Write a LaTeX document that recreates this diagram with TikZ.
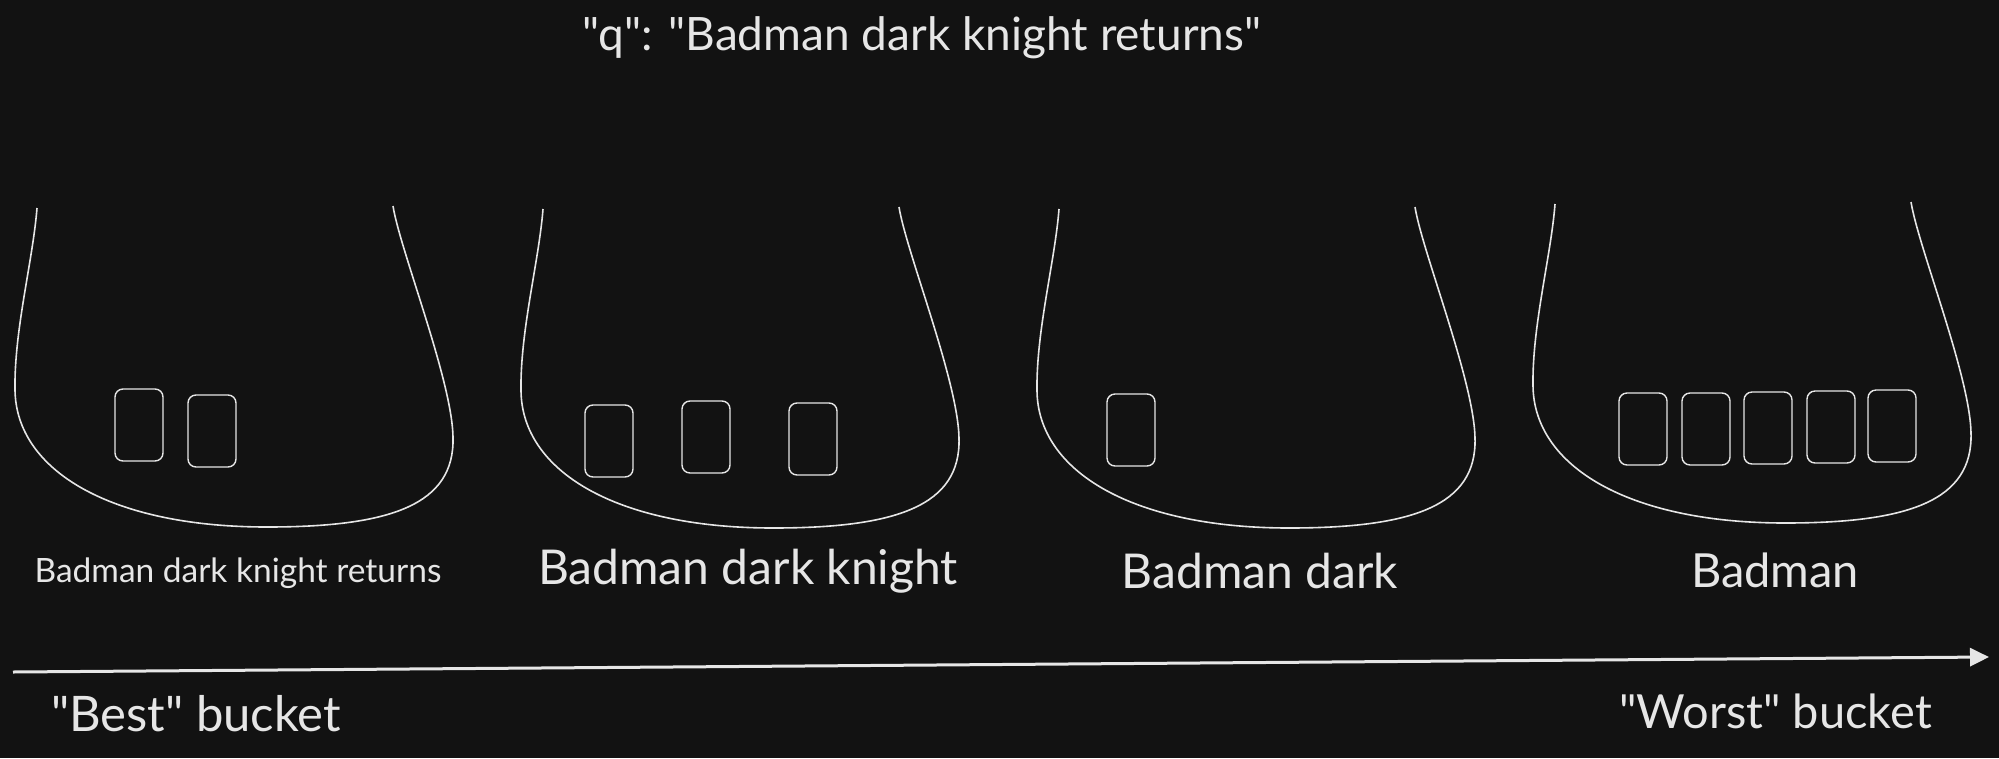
\documentclass[tikz,border=0pt]{standalone}
\usepackage{fontspec}
\setmainfont{Lato}[Ligatures=TeXOff]
\usetikzlibrary{arrows.meta}
\definecolor{bg}{HTML}{121212}
\definecolor{ink}{HTML}{E6E6E6}
\tikzset{
  bucket/.style={draw=ink, line width=1.6pt},
  item/.style={draw=ink, line width=1.4pt, rounded corners=8pt, minimum width=48pt, minimum height=72pt, inner sep=0pt},
  lbl/.style={text=ink, inner sep=0pt},
}
\begin{document}
\begin{tikzpicture}[x=1pt,y=-1pt]
            \fill[bg] (0,0) rectangle (1999,758);
            \useasboundingbox (0,0) rectangle (1999,758);
            \node[lbl, font=\fontsize{46}{55}\selectfont] (query) at (922,38) {"q": "Badman dark knight returns"};
            % the four buckets
            \foreach \dx/\dy in {0/0,506/1,1022/1,1518/-4}
              \draw[bucket, shift={(\dx,\dy)}] (37,208) .. controls (33,260) and (14,330) .. (15,390)
                .. controls (16,470) and (110,527) .. (267,527)
                .. controls (390,527) and (455,505) .. (453,437)
                .. controls (452,380) and (400,250) .. (393,206);
            \node[item] (a1) at (139,425) {};
            \node[item] (a2) at (212,431) {};
            \node[item] (b1) at (609,441) {};
            \node[item] (b2) at (706,437) {};
            \node[item] (b3) at (813,439) {};
            \node[item] (c1) at (1131,430) {};
            \node[item] (d1) at (1643,429) {};
            \node[item] (d2) at (1706,429) {};
            \node[item] (d3) at (1768,428) {};
            \node[item] (d4) at (1831,427) {};
            \node[item] (d5) at (1892,426) {};
            \node[lbl, font=\fontsize{33.5}{40}\selectfont] (la) at (238,573) {Badman dark knight returns};
            \node[lbl, font=\fontsize{48}{57}\selectfont] (lb) at (748,571) {Badman dark knight};
            \node[lbl, font=\fontsize{48}{57}\selectfont] (lc) at (1260,571) {Badman dark};
            \node[lbl, font=\fontsize{47}{56}\selectfont] (ld) at (1775,570) {Badman};
            % axis
            \coordinate (axisstart) at (13,672);
            \coordinate (axisend) at (1989,657);
            \draw[ink, line width=3pt, -{Triangle[length=19pt,width=18pt]}] (axisstart) -- (axisend);
            \node[lbl, font=\fontsize{49}{58}\selectfont, anchor=west] (best) at (51,714) {"Best" bucket};
            \node[lbl, font=\fontsize{47}{56}\selectfont, anchor=east] (worst) at (1932,711) {"Worst" bucket};
\end{tikzpicture}
\end{document}
